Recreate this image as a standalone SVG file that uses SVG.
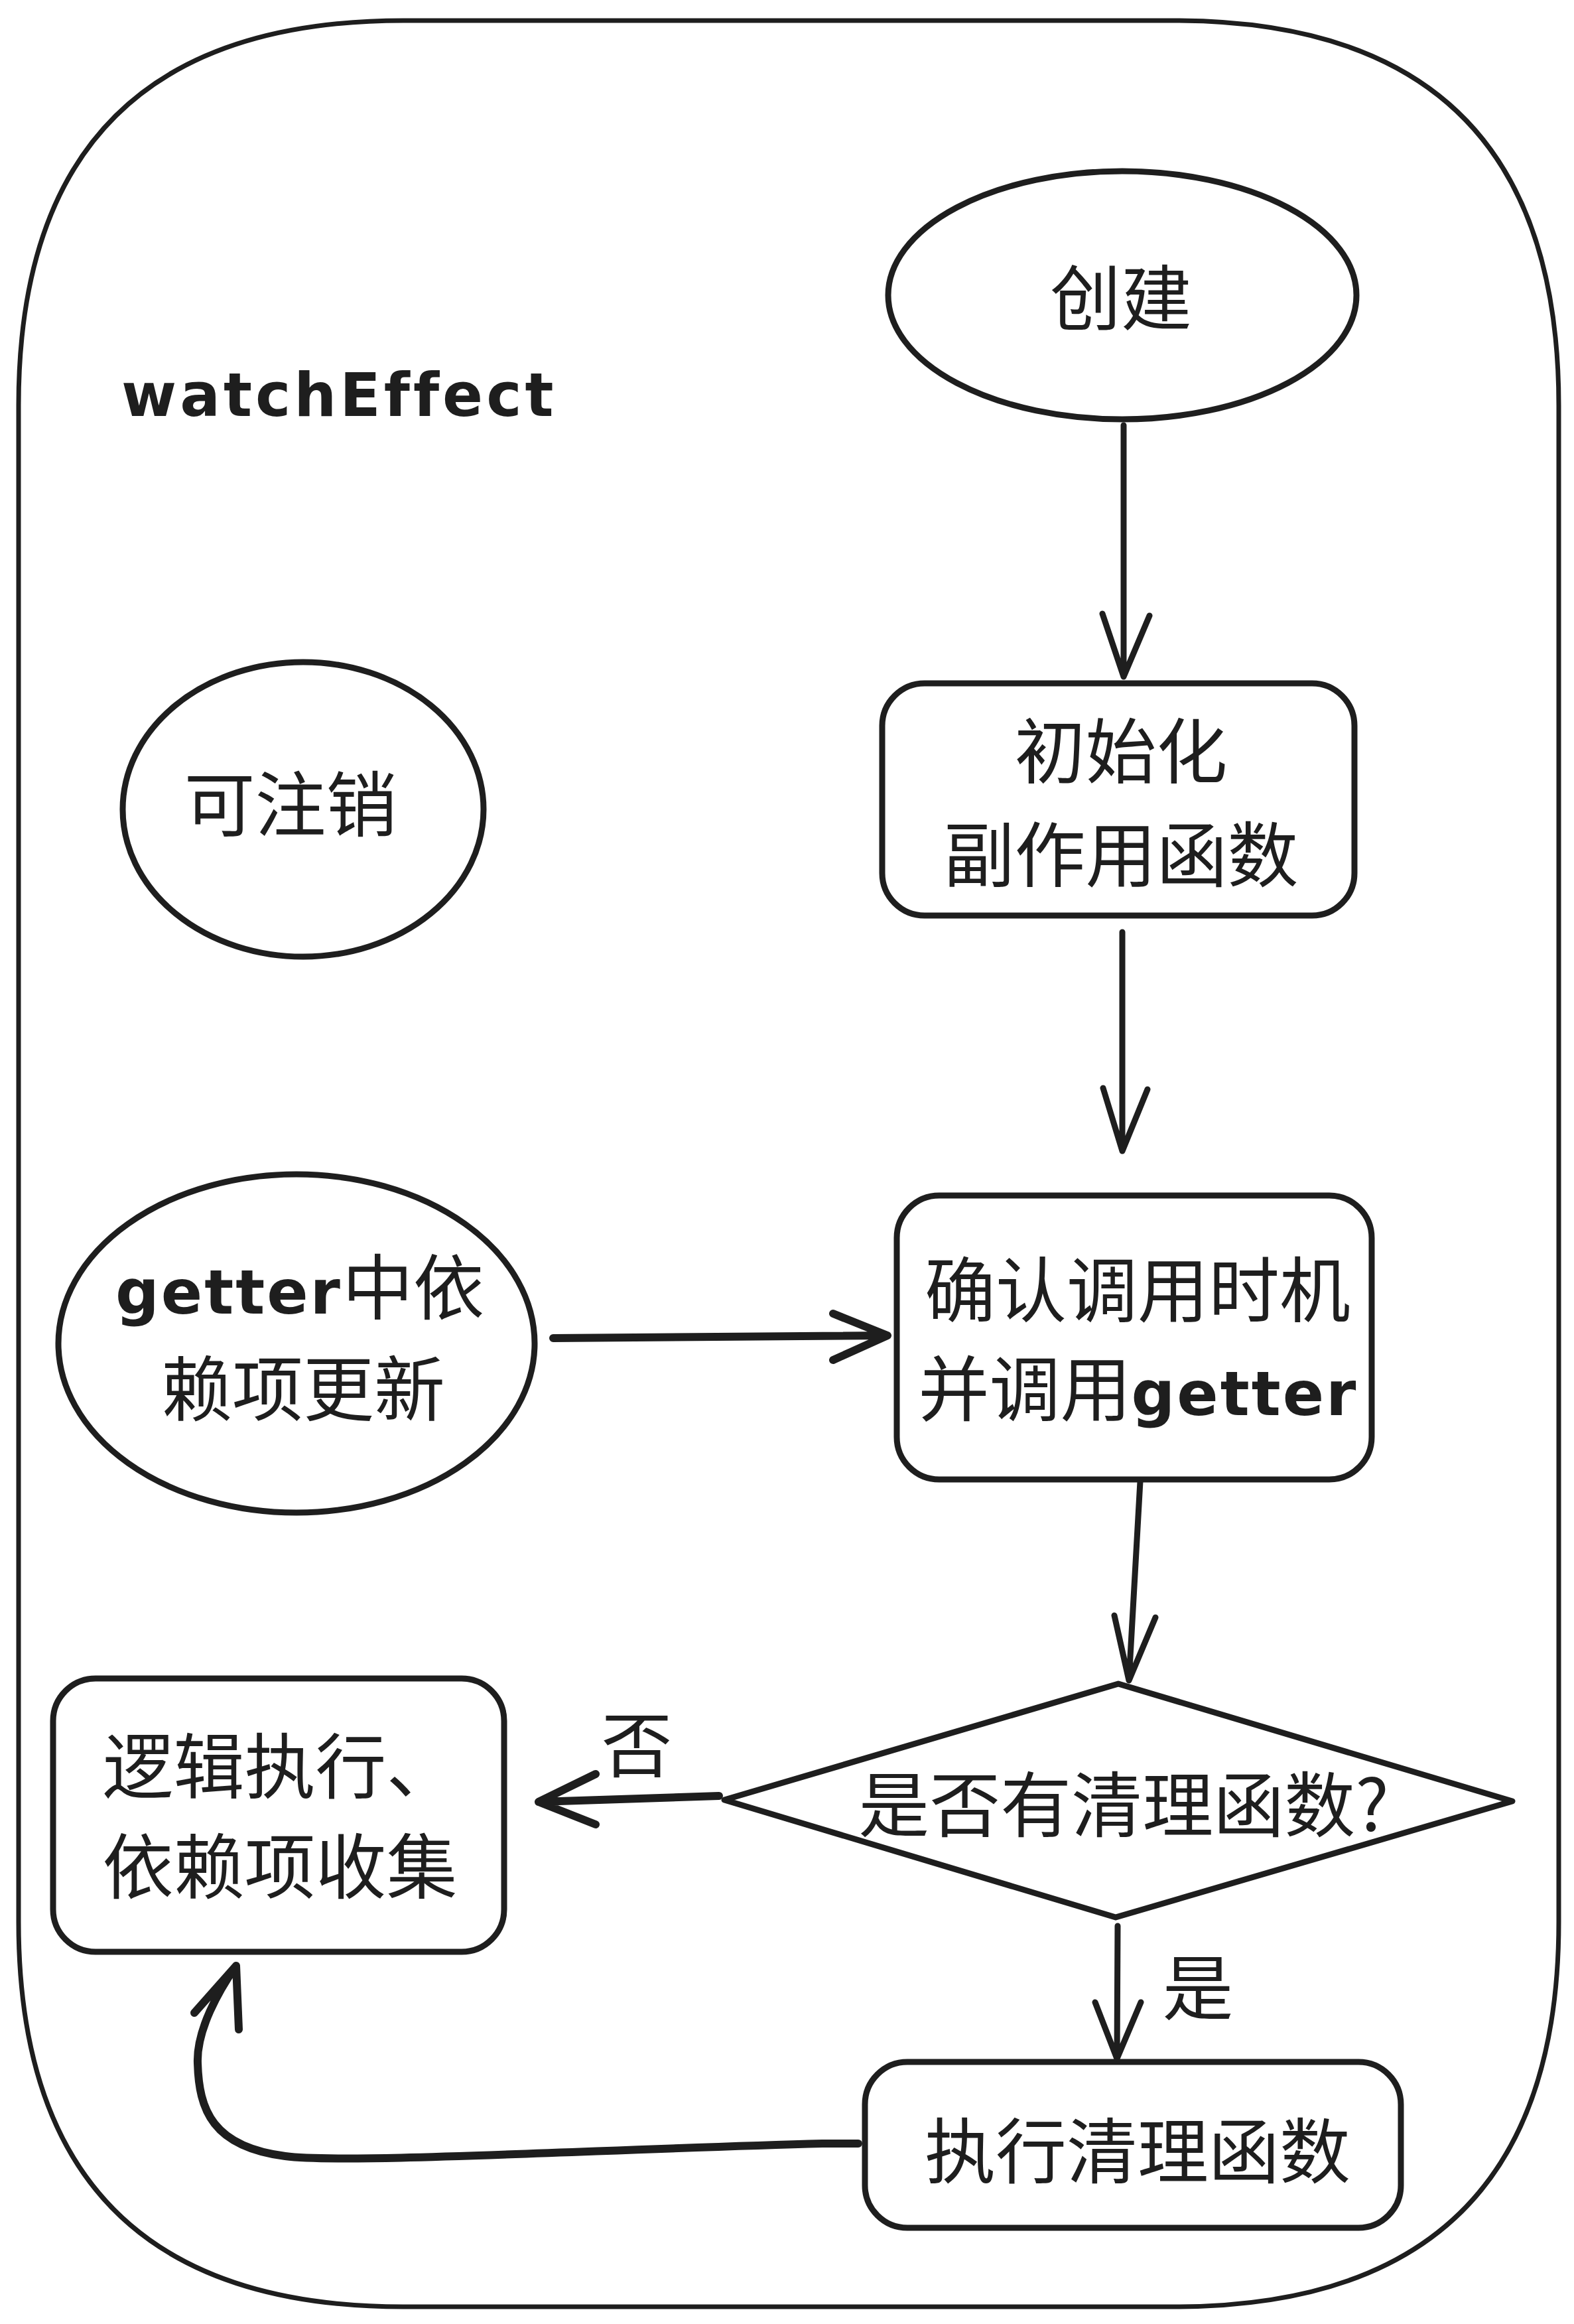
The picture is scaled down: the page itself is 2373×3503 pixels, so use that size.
<svg xmlns="http://www.w3.org/2000/svg" width="2373" height="3503" viewBox="0 0 2373 3503">
<style>
.s{fill:none;stroke:#1e1e1e;stroke-width:9;stroke-linecap:round;stroke-linejoin:round}
.b{stroke-width:12}
.f{stroke-width:7}
.t{font-family:"Noto Sans CJK SC","Noto Sans",sans-serif;font-size:107px;fill:#1e1e1e;text-anchor:middle}
.h{font-family:"DejaVu Sans","Noto Sans",sans-serif;font-weight:bold;fill:#1e1e1e}
</style>
<rect width="2373" height="3503" fill="#ffffff"/>
<g id="frame">
<path class="s f" d="M608,31 L1770,31 Q2350,31 2350,611 L2350,2897 Q2350,3477 1770,3477 L608,3477 Q28,3477 28,2897 L28,611 Q28,31 608,31 Z"/>
<text class="h" x="183" y="627" font-size="90" letter-spacing="5">watchEffect</text>
</g>
<g id="node-create">
<ellipse class="s" cx="1692" cy="445" rx="353" ry="187"/>
<text class="t" x="1690" y="489">创建</text>
</g>
<g id="node-init">
<rect class="s" x="1330" y="1030" width="712" height="350" rx="64"/>
<text class="t" x="1690" y="1172">初始化</text>
<text class="t" x="1690" y="1328">副作用函数</text>
</g>
<g id="node-cancel">
<ellipse class="s" cx="457" cy="1220" rx="272" ry="222"/>
<text class="t" x="438" y="1252">可注销</text>
</g>
<g id="node-update">
<ellipse class="s" cx="447" cy="2025" rx="359" ry="255"/>
<text class="t" x="452" y="1980"><tspan class="h" font-size="92" letter-spacing="3">getter</tspan>中依</text>
<text class="t" x="457" y="2133">赖项更新</text>
</g>
<g id="node-confirm">
<rect class="s" x="1352" y="1802" width="716" height="428" rx="64"/>
<text class="t" x="1715" y="1984">确认调用时机</text>
<text class="t" x="1716" y="2133">并调用<tspan class="h" font-size="92" letter-spacing="3">getter</tspan></text>
</g>
<g id="node-decision">
<path class="s" d="M1686,2538 L2280,2715 L1682,2890 L1092,2713 Z"/>
<text class="t" x="1694" y="2760">是否有清理函数?</text>
</g>
<g id="node-logic">
<rect class="s" x="80" y="2530" width="680" height="412" rx="64"/>
<text class="t" x="422" y="2702">逻辑执行、</text>
<text class="t" x="422" y="2853">依赖项收集</text>
</g>
<g id="node-cleanup">
<rect class="s" x="1304" y="3108" width="808" height="250" rx="64"/>
<text class="t" x="1715" y="3282">执行清理函数</text>
</g>
<g id="connectors">
<path class="s" d="M1694,641 L1694,1020 M1662,925 L1694,1020 L1733,928"/>
<path class="s" d="M1692,1405 L1692,1735 M1663,1640 L1692,1735 L1730,1642"/>
<path class="s b" d="M834,2017 L1338,2013 M1256,1980 L1338,2013 L1256,2050"/>
<path class="s" d="M1719,2233 L1702,2533 M1680,2435 L1702,2533 L1742,2438"/>
<path class="s b" d="M1084,2707 L812,2716 M898,2674 L812,2716 L898,2750"/>
<text class="t" x="960" y="2670">否</text>
<path class="s" d="M1685,2903 L1684,3103 M1651,3018 L1684,3103 L1720,3018"/>
<text class="t" x="1806" y="3036">是</text>
<path class="s b" d="M1294,3231 L1240,3231 C900,3240 520,3262 430,3250 C320,3236 300,3180 298,3110 C296,3060 330,3000 356,2963 M293,3034 L356,2963 L360,3059"/>
</g>
</svg>
